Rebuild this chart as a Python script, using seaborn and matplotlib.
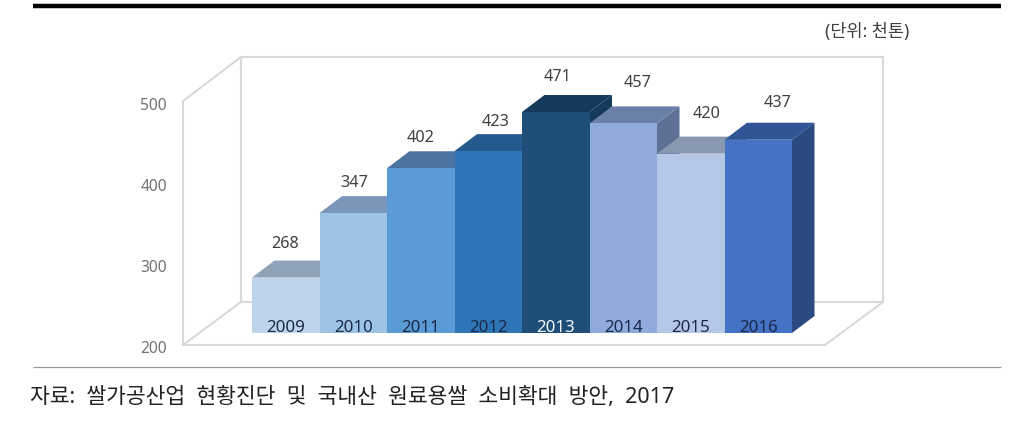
"""
Rice processing chart: faux 3D bars drawn on seaborn's bar patches
"""

import matplotlib
matplotlib.use("Agg")
import matplotlib.pyplot as plt
from matplotlib.patches import Polygon
import seaborn as sns

# Data
YEARS = ["2009", "2010", "2011", "2012", "2013", "2014", "2015", "2016"]
VALUES = [268, 347, 402, 423, 471, 457, 420, 437]
Y_TICKS = [200, 300, 400, 500]
UNIT_TEXT = "(단위: 천톤)"
# wide word gaps as in the original
SOURCE_TEXT = "자료:  쌀가공산업  현황진단  및  국내산  원료용쌀  소비확대  방안,  2017"

# Colours
FRONT = ["#bdd4ec", "#9dc3e6", "#5b9bd5", "#2e75b6", "#1f4e79", "#8faadc", "#b4c7e7", "#4472c4"]
TOP = ["#8fa3b8", "#7b96b8", "#4a73a0", "#245a90", "#153a5c", "#6b80a8", "#8898b0", "#2f5597"]
SIDE = ["#7f93a8", "#6d88a8", "#41668f", "#1f4f80", "#153a5c", "#5e7096", "#7a8aa2", "#2b4a80"]
WALL = "#d9d9d9"

# Layout in pixels
W, H = 1034, 435
BAR_PX = 67.5
UNIT_PX = 0.8155
DEPTH_X, DEPTH_Y = 22.5, 17
LABEL_OFFSET = [(-1, 35), (1, 31), (0, 31), (7, 30), (2, 36), (14, 41), (16, 41), (19, 38)]

sns.set_theme(style="white")
plt.rcParams["font.family"] = ["Noto Sans", "Noto Sans CJK KR", "DejaVu Sans"]


def px_axes(fig, left, top, right, bottom):
    return fig.add_axes([left / W, 1 - bottom / H, (right - left) / W, (bottom - top) / H])


fig = plt.figure(figsize=(W / 100, H / 100), dpi=100)

# Room frame and page rules
bg = fig.add_axes([0, 0, 1, 1])
bg.set_xlim(0, W)
bg.set_ylim(H, 0)
bg.axis("off")
frame = [
    ([241, 883, 883, 241, 241], [58, 58, 303, 303, 58]),
    ([241, 183, 183, 825, 883], [58, 102, 346, 346, 303]),
    ([241, 183], [303, 346]),
]
for xs, ys in frame:
    bg.plot(xs, ys, color=WALL, lw=1.5, solid_joinstyle="miter")
bg.plot([33, 1001], [7.2, 7.2], color="black", lw=3.2, solid_capstyle="butt")
bg.plot([33, 1001], [368, 368], color="#999999", lw=0.9, solid_capstyle="butt")
bg.text(825, 32, UNIT_TEXT, fontsize=12.6, color="#404040", va="center", ha="left")
bg.text(30, 398, SOURCE_TEXT, fontsize=15.5, color="#222222", va="center", ha="left")

# Value scale sits on the front edge of the floor
scale = px_axes(fig, 183, 104, 200, 347)
scale.patch.set_alpha(0)
scale.set_ylim(200, 500)
scale.set_yticks(Y_TICKS)
scale.set_xticks([])
scale.tick_params(axis="y", length=0, pad=11.5, labelsize=11.2, labelcolor="#737373")
sns.despine(ax=scale, left=True, bottom=True)

# Bars
ax = px_axes(fig, 252, 61, 840, 334)
ax.patch.set_alpha(0)
sns.barplot(x=YEARS, y=VALUES, hue=YEARS, palette=FRONT, saturation=1, width=1,
            dodge=False, legend=False, ax=ax)
ax.set_xlim(-0.5, -0.5 + (840 - 252) / BAR_PX)
ax.set_ylim(200, 200 + (334 - 61) / UNIT_PX)
ax.set_yticks([])
ax.set_axisbelow(False)
ax.tick_params(axis="x", length=0, pad=-10, labelsize=12.2, labelcolor="#1c2a4a")
ax.get_xticklabels()[4].set_color("#f2f6fa")
sns.despine(ax=ax, left=True, bottom=True)

dx = DEPTH_X / BAR_PX
dy = DEPTH_Y / UNIT_PX
for i, bar in enumerate(ax.patches):
    x0, x1 = bar.get_x(), bar.get_x() + bar.get_width()
    h = bar.get_height()
    z = 1 + i * 0.1
    bar.set_zorder(z + 0.02)
    bar.set_edgecolor("none")
    ax.add_patch(Polygon([(x1, 200), (x1 + dx, 200 + dy), (x1 + dx, h + dy), (x1, h)],
                         closed=True, facecolor=SIDE[i], edgecolor="none", zorder=z))
    ax.add_patch(Polygon([(x0, h), (x0 + dx, h + dy), (x1 + dx, h + dy), (x1, h)],
                         closed=True, facecolor=TOP[i], edgecolor="none", zorder=z + 0.01))
    off_x, off_y = LABEL_OFFSET[i]
    ax.annotate(str(VALUES[i]), xy=(i, h), xytext=(off_x * 0.72, off_y * 0.72),
                textcoords="offset points", ha="center", va="center",
                fontsize=11.7, color="#404040", zorder=5)

fig.savefig("out.png", dpi=100)
